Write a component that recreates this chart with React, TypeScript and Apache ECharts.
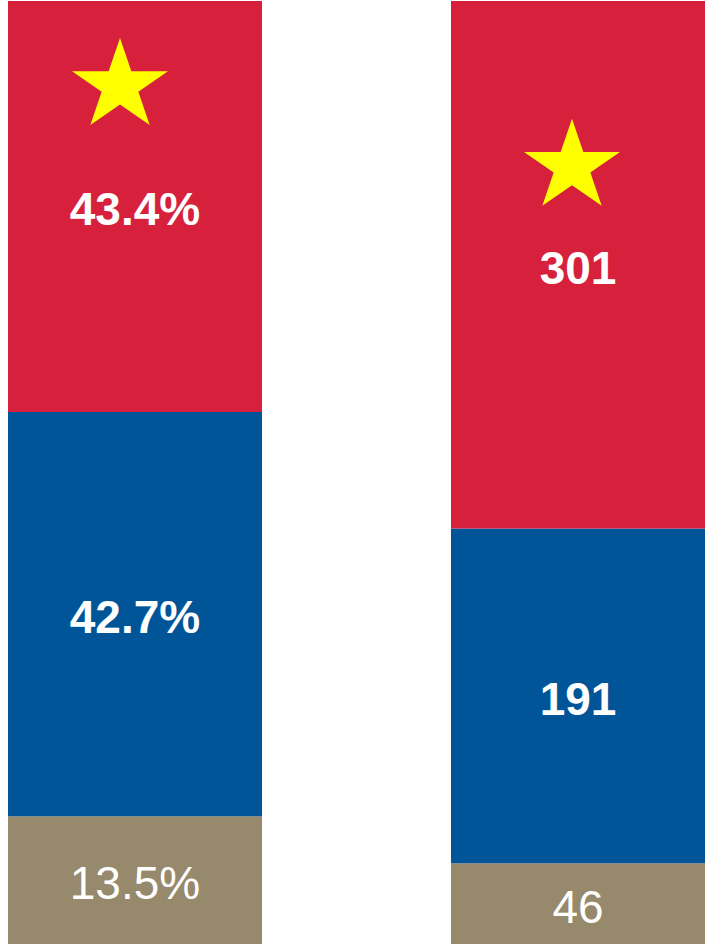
import React, { useEffect, useRef } from "react";
import * as echarts from "echarts";

// Data
const leftCategories = ["Share"];
const leftRed = [43.4];
const leftBlue = [42.7];
const leftTan = [13.5];

const rightCategories = ["Count"];
const rightRed = [301];
const rightBlue = [191];
const rightTan = [46];

// Star markers (value positions on each bar's own scale)
const leftStarValue = 91.1;
const rightStarValue = 446;

const RED = "#D7213C";
const BLUE = "#005598";
const TAN = "#97896B";
const STAR = "#FFFF00";
const FONT = "Liberation Sans";

const STAR_PATH =
  "path://M95.11 0 L117.56 69.1 L190.22 69.1 L131.44 111.8 L153.89 180.9 L95.11 138.2 L36.33 180.9 L58.78 111.8 L0 69.1 L72.66 69.1 Z";

export default function App() {
  const ref = useRef<HTMLDivElement>(null);

  useEffect(() => {
    if (!ref.current) return;
    const chart = echarts.init(ref.current, null, { renderer: "svg" });

    const leftTotal = leftRed[0] + leftBlue[0] + leftTan[0];
    const rightTotal = rightRed[0] + rightBlue[0] + rightTan[0];

    const label = (bold: boolean, fmt: (v: number) => string) => ({
      show: true,
      position: "inside",
      color: "#ffffff",
      fontFamily: FONT,
      fontSize: 46,
      fontWeight: bold ? "bold" : "normal",
      offset: [0, 3],
      formatter: (p: any) => fmt(p.value),
    });
    const pct = (v: number) => v.toFixed(1) + "%";
    const num = (v: number) => String(v);

    const bar = (
      name: string,
      data: number[],
      color: string,
      idx: number,
      stack: string,
      lbl: any,
      extra: any = {}
    ) => ({
      name,
      type: "bar",
      stack,
      xAxisIndex: idx,
      yAxisIndex: idx,
      data,
      barWidth: "100%",
      itemStyle: { color },
      label: lbl,
      ...extra,
    });

    const starMark = (cat: string, value: number, dx: number) => ({
      markPoint: {
        symbol: STAR_PATH,
        symbolSize: [96, 87],
        symbolKeepAspect: false,
        symbolOffset: [dx, 0],
        itemStyle: { color: STAR },
        label: { show: false },
        data: [{ coord: [cat, value] }],
      },
    });

    chart.setOption({
      animation: false,
      grid: [
        { left: 8, top: 1, width: 254, height: 943 },
        { left: 451, top: 1, width: 254, height: 943 },
      ],
      xAxis: [
        { type: "category", gridIndex: 0, data: leftCategories, show: false },
        { type: "category", gridIndex: 1, data: rightCategories, show: false },
      ],
      yAxis: [
        { type: "value", gridIndex: 0, min: 0, max: leftTotal, show: false, splitLine: { show: false } },
        { type: "value", gridIndex: 1, min: 0, max: rightTotal, show: false, splitLine: { show: false } },
      ],
      series: [
        bar("L tan", leftTan, TAN, 0, "L", label(false, pct)),
        bar("L blue", leftBlue, BLUE, 0, "L", label(true, pct)),
        bar("L red", leftRed, RED, 0, "L", label(true, pct), starMark(leftCategories[0], leftStarValue, -15)),
        bar("R tan", rightTan, TAN, 1, "R", label(false, num)),
        bar("R blue", rightBlue, BLUE, 1, "R", label(true, num)),
        bar("R red", rightRed, RED, 1, "R", label(true, num), starMark(rightCategories[0], rightStarValue, -6)),
      ],
    });

    return () => chart.dispose();
  }, []);

  return (
    <div
      ref={ref}
      style={{ position: "absolute", left: 0, top: 0, width: 706, height: 947 }}
    />
  );
}
